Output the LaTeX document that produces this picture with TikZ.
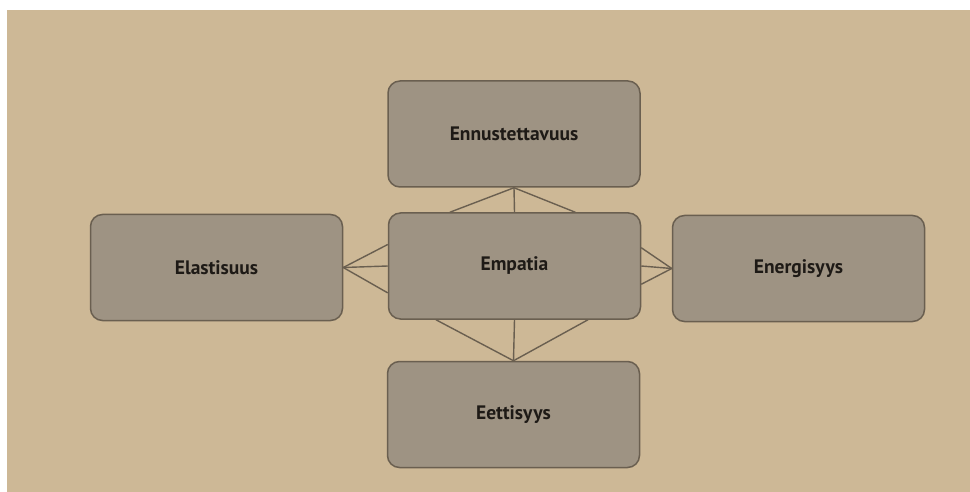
\documentclass[tikz,border=0pt]{standalone}
\usepackage{fontspec}
\setmainfont{PT Sans}
\usepackage{tikz}
\usetikzlibrary{calc}
\definecolor{paper}{HTML}{CDB896}
\definecolor{boxfill}{HTML}{9E9383}
\definecolor{boxline}{HTML}{6A5F50}
\definecolor{ink}{HTML}{1E1A16}
\begin{document}
\begin{tikzpicture}[x=1pt,y=-1pt,
  quality/.style={draw=boxline,line width=1.5pt,fill=boxfill,rounded corners=12pt,
    minimum width=252pt,minimum height=106pt,text=ink,
    font=\fontsize{19.5}{22}\selectfont\bfseries},
  link/.style={boxline,line width=1.4pt}]
\useasboundingbox (0,0) rectangle (970,492);
\fill [white] (0,0) rectangle (970,492);
\fill [paper] (7,10) rectangle (970,492);
\node [quality] (ennustettavuus) at (514,134) {Ennustettavuus};
\node [quality] (elastisuus) at (216.5,267.5) {Elastisuus};
\node [quality] (empatia) at (514.5,266) {Empatia};
\node [quality] (energisyys) at (798.5,268.5) {Energisyys};
\node [quality] (eettisyys) at (513.5,414.5) {Eettisyys};
\draw [link] (ennustettavuus.south) -- ($(empatia.north west) !.245! (empatia.north east)$);
\draw [link] (ennustettavuus.south) -- (empatia.north);
\draw [link] (ennustettavuus.south) -- ($(empatia.north west) !.74! (empatia.north east)$);
\draw [link] (eettisyys.north) -- ($(empatia.south west) !.19! (empatia.south east)$);
\draw [link] (eettisyys.north) -- (empatia.south);
\draw [link] (eettisyys.north) -- ($(empatia.south west) !.79! (empatia.south east)$);
\draw [link] (elastisuus.east) -- ($(empatia.north west) !.30! (empatia.south west)$);
\draw [link] (elastisuus.east) -- (empatia.west);
\draw [link] (elastisuus.east) -- ($(empatia.north west) !.75! (empatia.south west)$);
\draw [link] (energisyys.west) -- ($(empatia.north east) !.33! (empatia.south east)$);
\draw [link] (energisyys.west) -- (empatia.east);
\draw [link] (energisyys.west) -- ($(empatia.north east) !.67! (empatia.south east)$);
\end{tikzpicture}
\end{document}
